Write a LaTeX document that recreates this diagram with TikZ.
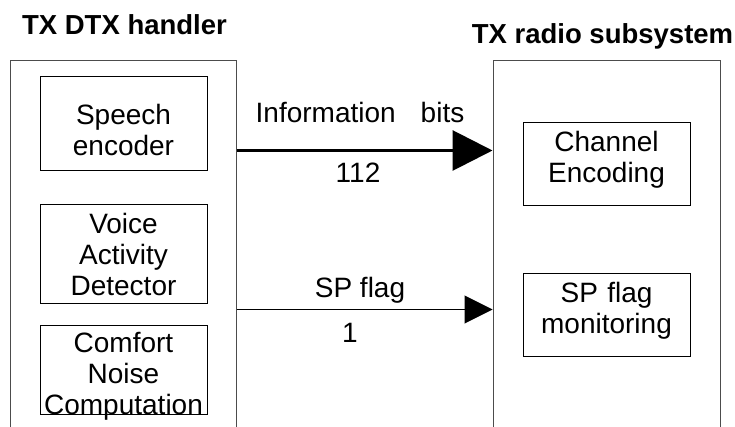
\documentclass[tikz,border=0pt]{standalone}
\usepackage{fontspec}
\setmainfont{Liberation Sans}
\usetikzlibrary{arrows.meta}

\begin{document}
\begin{tikzpicture}[x=1pt, y=-1pt,
    unit/.style={draw=black!70, line width=1pt, minimum width=#1, minimum height=399pt, inner sep=0pt},
    block/.style 2 args={draw, line width=0.8pt, minimum width=167pt, minimum height=#1, text width=167pt,
        text height=21pt, text depth=#2, align=center, inner sep=0pt, font=\fontsize{28}{31}\selectfont},
    unittitle/.style={anchor=base, inner sep=0pt, font=\fontsize{27.5}{32}\selectfont\bfseries},
    flowtext/.style={anchor=base, inner sep=0pt, font=\fontsize{28}{32}\selectfont},
    bigflow/.style={line width=3pt, -{Triangle[length=40pt,width=40pt]}},
    smallflow/.style={line width=1pt, -{Triangle[length=28pt,width=28pt]}}]

    % Page size
    \useasboundingbox (0,0) rectangle (735,427);
    \clip (0,0) rectangle (735,427);

    % 1. TX DTX handler
    \node[unit=226pt] (dtx) at (123,260.5) {};
    \node[unittitle] (dtxtitle) at (124.5,35) {TX DTX handler};
    \node[block={94pt}{18pt}] (speech) at (123.5,123.5) {Speech\\encoder};
    \node[block={99pt}{60pt}] (vad) at (123.5,253.5) {Voice\\Activity\\Detector};
    \node[block={89pt}{56pt}] (noise) at (123.5,369.5) {Comfort\\Noise\\Computation};

    % 2. TX radio subsystem
    \node[unit=227pt] (radio) at (606.5,260.5) {};
    \node[unittitle] (radiotitle) at (602.5,44) {TX radio subsystem};
    \node[block={83pt}{44pt}] (chan) at (606.5,163.5) {Channel\\Encoding};
    \node[block={83pt}{46pt}] (flagmon) at (606.5,314.5) {SP flag\\monitoring};

    % 3. Flows between the two
    \draw[bigflow] ([yshift=-90pt]dtx.north east) -- ([yshift=-90pt]radio.north west);
    \draw[smallflow] ([yshift=-249pt]dtx.north east) -- ([yshift=-249pt]radio.north west);
    \node[flowtext] (infobits) at (360,123) {Information\hspace{25pt}bits};
    \node[flowtext] (infonum) at (358,183) {112};
    \node[flowtext] (spflag) at (360,297) {SP flag};
    \node[flowtext] (spnum) at (350,342) {1};

\end{tikzpicture}
\end{document}
